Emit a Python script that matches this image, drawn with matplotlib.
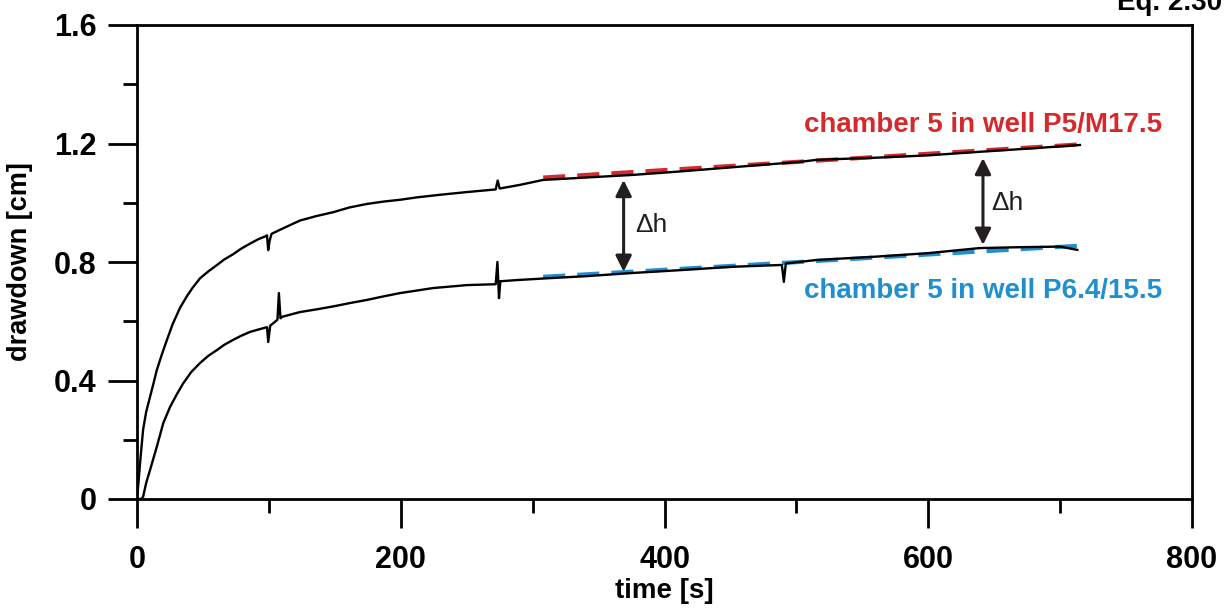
import numpy as np
import matplotlib
matplotlib.use('Agg')
import matplotlib.pyplot as plt
from matplotlib.ticker import MultipleLocator

plt.rcParams['font.family'] = ['Liberation Sans', 'DejaVu Sans']

# ── data ────────────────────────────────────────────────────────────────────
# upper curve: chamber 5 in well P5/M17.5
t_upper = [0, 1, 2.3, 4.6, 7, 9.9, 12.5, 15, 19, 22.7, 27, 32.6, 37.9, 42,
           47.8, 54, 60.7, 66, 72.8, 79, 85.7, 92, 97, 98.6, 99.5, 100.5,
           102, 110, 123.6, 136, 148.7, 161, 174.4, 187, 199.4, 212, 230,
           250, 272, 273.5, 275, 290, 307.9, 340, 376, 410, 452, 502.7,
           515.6, 560, 600, 639, 680, 715]
h_upper = [0, 0.05, 0.12, 0.233, 0.295, 0.345, 0.39, 0.435, 0.49, 0.537,
           0.59, 0.645, 0.685, 0.712, 0.745, 0.768, 0.79, 0.808, 0.826, 0.845,
           0.862, 0.877, 0.886, 0.89, 0.84, 0.87, 0.895, 0.912, 0.94, 0.955,
           0.968, 0.984, 0.996, 1.004, 1.01, 1.018, 1.027, 1.036, 1.045,
           1.075, 1.048, 1.06, 1.077, 1.085, 1.094, 1.105, 1.12, 1.138, 1.145,
           1.152, 1.16, 1.172, 1.184, 1.195]

# lower curve: chamber 5 in well P6.4/15.5
t_lower = [0, 3, 4.6, 7, 9.9, 12.5, 15, 19.9, 25, 30, 35, 41, 47.8, 54, 60.7,
           66, 72.8, 79, 85.7, 92, 97, 98.6, 99.5, 101, 106.5, 107.6, 108.8,
           110, 123.6, 136, 148.7, 161, 174.4, 187, 199.4, 224.5, 250, 272,
           273.3, 274.5, 275.5, 288, 311, 340, 376, 410, 452, 489, 490.5, 492,
           515.6, 560, 600, 639, 670, 700, 713]
h_lower = [0, 0, 0.007, 0.055, 0.098, 0.138, 0.176, 0.256, 0.31, 0.352,
           0.39, 0.428, 0.459, 0.483, 0.503, 0.52, 0.537, 0.551, 0.564, 0.572,
           0.578, 0.58, 0.53, 0.585, 0.605, 0.695, 0.61, 0.615, 0.631, 0.64,
           0.65, 0.661, 0.672, 0.684, 0.695, 0.712, 0.722, 0.725, 0.80, 0.678,
           0.735, 0.739, 0.745, 0.752, 0.763, 0.772, 0.784, 0.79, 0.733, 0.795,
           0.807, 0.818, 0.83, 0.847, 0.85, 0.852, 0.841]

# linear fits (dashed)
fit_t = [308, 715]
fit_upper = [1.085, 1.197]
fit_lower = [0.750, 0.855]

# Δh markers
dh_t = [369, 641.5]
dh_top = [1.077, 1.151]
dh_bottom = [0.767, 0.858]
dh_label_t = [378, 648]
dh_label_h = [0.925, 0.999]

RED = '#d7282c'
BLUE = '#1f8fd0'

fig = plt.figure(figsize=(12.32, 6.09), dpi=100)
ax = fig.add_axes([137 / 1232, 1 - 499 / 609, 1055 / 1232, 474 / 609])

ax.plot(fit_t, fit_upper, color=RED, lw=3, dashes=(5.3, 2.9), zorder=2,
        solid_capstyle='butt')
ax.plot(fit_t, fit_lower, color=BLUE, lw=3, dashes=(5.3, 2.9), zorder=2,
        solid_capstyle='butt')
ax.plot(t_upper, h_upper, color='black', lw=1.7, zorder=3)
ax.plot(t_lower, h_lower, color='black', lw=1.7, zorder=3)

for t, top, bot in zip(dh_t, dh_top, dh_bottom):
    ax.annotate('', xy=(t, bot), xytext=(t, top),
                arrowprops=dict(arrowstyle='<|-|>', lw=2.2, color='#231f20',
                                mutation_scale=24, shrinkA=0, shrinkB=0))
for t, h in zip(dh_label_t, dh_label_h):
    ax.text(t, h, '\u0394h', fontsize=19, color='#231f20',
            ha='left', va='center')

ax.text(777, 1.263, 'chamber 5 in well P5/M17.5', color=RED, fontsize=20,
        fontweight='bold', ha='right', va='center')
ax.text(777, 0.703, 'chamber 5 in well P6.4/15.5', color=BLUE, fontsize=20,
        fontweight='bold', ha='right', va='center')

ax.set_xlim(0, 800)
ax.set_ylim(0, 1.6)
ax.xaxis.set_minor_locator(MultipleLocator(100))
ax.yaxis.set_minor_locator(MultipleLocator(0.2))
ax.set_xticks([0, 200, 400, 600, 800])
ax.set_xticklabels(['0', '200', '400', '600', '800'])
ax.set_yticks([0, 0.4, 0.8, 1.2, 1.6])
ax.set_yticklabels(['0', '0.4', '0.8', '1.2', '1.6'])

for s in ax.spines.values():
    s.set_linewidth(2.0)
ax.tick_params(which='major', direction='out', length=21, width=2.0,
               labelsize=22)
ax.tick_params(which='minor', direction='out', length=10, width=2.0)
ax.tick_params(axis='x', which='major', pad=12)
ax.tick_params(axis='y', which='major', pad=8)
for lab in ax.get_xticklabels() + ax.get_yticklabels():
    lab.set_fontweight('bold')

ax.set_xlabel('time [s]', fontsize=20, fontweight='bold', va='center')
ax.xaxis.set_label_coords(0.5, -(591 - 499) / 474)
ax.set_ylabel('drawdown [cm]', fontsize=19.5, fontweight='bold', va='center')
ax.yaxis.set_label_coords((20 - 137) / 1055, 0.5)

fig.text(1222 / 1232, 1 - 10 / 609, 'Eq. 2.30', fontsize=20,
         fontweight='bold', ha='right', va='baseline')

fig.savefig('out.png', dpi=100)
